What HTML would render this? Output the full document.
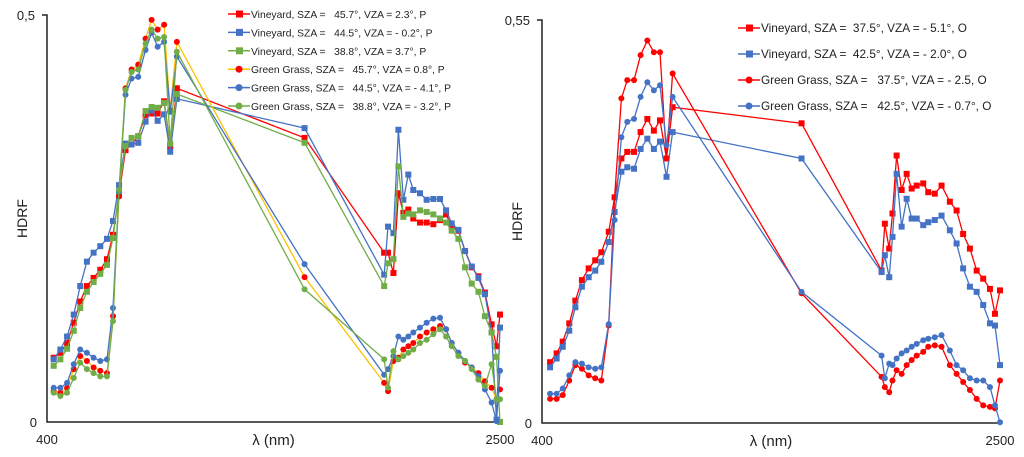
<!DOCTYPE html>
<html><head><meta charset="utf-8"><style>
body{margin:0;background:#fff;}
svg{display:block;font-family:"Liberation Sans",Arial,sans-serif;}
</style></head><body>
<svg id="chart" width="1024" height="457" viewBox="0 0 1024 457"></svg>
<script>
// ---------- LEFT CHART DATA ----------
const leftWavelengths = [431,462,493,524,554,585,616,647,678,706,734,764,792,823,857,885,913,943,971,1002,1594,1963,1981,2006,2029,2052,2075,2098,2129,2160,2191,2222,2250,2276,2307,2338,2369,2400,2430,2461,2484,2500];
const leftNames = ["Vineyard, SZA =   45.7°, VZA = 2.3°, P","Vineyard, SZA =   44.5°, VZA = - 0.2°, P","Vineyard, SZA =   38.8°, VZA = 3.7°, P","Green Grass, SZA =   45.7°, VZA = 0.8°, P","Green Grass, SZA =   44.5°, VZA = - 4.1°, P","Green Grass, SZA =   38.8°, VZA = - 3.2°, P"];
const leftVineyard1 = [.079,.085,.097,.122,.148,.167,.177,.187,.200,.230,.279,.334,.341,.351,.377,.379,.379,.394,.339,.410,.349,.208,.208,.183,.281,.257,.261,.250,.245,.245,.243,.248,.255,.240,.235,.210,.190,.179,.159,.120,.093,.132];
const leftVineyard2 = [.077,.089,.105,.132,.167,.197,.208,.216,.225,.247,.291,.342,.341,.343,.369,.383,.370,.378,.332,.397,.361,.181,.240,.232,.359,.273,.304,.285,.281,.273,.274,.274,.260,.244,.236,.210,.191,.177,.157,.110,.003,.116];
const leftVineyard3 = [.069,.077,.090,.112,.140,.160,.172,.182,.193,.226,.283,.339,.349,.351,.382,.387,.386,.392,.342,.403,.343,.167,.195,.200,.314,.252,.256,.255,.260,.258,.255,.250,.245,.235,.225,.190,.170,.160,.130,.110,.080,.000];
const leftGrass1 = [.038,.036,.042,.065,.081,.075,.067,.063,.060,.130,.277,.410,.433,.439,.471,.494,.482,.488,.383,.467,.178,.048,.038,.075,.079,.089,.093,.097,.105,.110,.114,.118,.114,.097,.085,.073,.067,.060,.050,.042,.028,.040];
const leftGrass2 = [.042,.042,.048,.071,.089,.085,.079,.075,.077,.140,.283,.402,.422,.424,.457,.478,.461,.467,.381,.449,.194,.058,.065,.081,.105,.101,.105,.110,.116,.122,.127,.128,.114,.097,.085,.075,.067,.056,.040,.024,.001,.063];
const leftGrass3 = [.036,.032,.036,.054,.073,.065,.060,.056,.056,.124,.285,.408,.430,.433,.465,.482,.471,.473,.343,.455,.163,.077,.042,.087,.077,.081,.085,.089,.097,.101,.108,.114,.105,.093,.081,.075,.065,.052,.044,.071,.028,.028];
const leftTicks = ["0","0,5"];
// ---------- RIGHT CHART DATA ----------
const rightWavelengths = [437,467,495,525,553,583,614,644,672,706,733,764,791,822,852,883,913,941,971,999,1590,1957,1972,1992,2007,2026,2049,2072,2095,2118,2148,2171,2201,2232,2270,2301,2331,2362,2393,2423,2454,2477,2500];
const rightNames = ["Vineyard, SZA =  37.5°, VZA = - 5.1°, O","Vineyard, SZA =  42.5°, VZA = - 2.0°, O","Green Grass, SZA =   37.5°, VZA = - 2.5, O","Green Grass, SZA =   42.5°, VZA = - 0.7°, O"];
const rightVineyard1 = [.083,.095,.111,.136,.167,.195,.211,.222,.233,.261,.308,.361,.370,.370,.397,.415,.399,.413,.361,.431,.409,.208,.272,.238,.286,.365,.318,.340,.320,.324,.327,.315,.313,.324,.302,.290,.258,.238,.208,.197,.183,.149,.181];
const rightVineyard2 = [.076,.088,.104,.126,.158,.186,.199,.208,.220,.247,.288,.343,.349,.347,.374,.388,.374,.384,.336,.397,.361,.206,.229,.199,.254,.340,.268,.306,.279,.279,.270,.274,.277,.283,.263,.245,.211,.186,.179,.161,.136,.133,.079];
const rightGrass1 = [.033,.033,.038,.058,.079,.074,.065,.061,.058,.133,.308,.443,.468,.468,.502,.522,.506,.506,.361,.477,.177,.063,.049,.042,.058,.072,.067,.079,.086,.092,.097,.104,.106,.104,.079,.067,.056,.045,.033,.024,.022,.020,.058];
const rightGrass2 = [.040,.040,.047,.065,.083,.081,.076,.074,.076,.135,.277,.390,.411,.415,.445,.465,.454,.461,.379,.445,.179,.092,.061,.081,.079,.088,.095,.099,.104,.108,.113,.115,.117,.120,.099,.079,.072,.061,.058,.058,.049,.024,.001];
const rightTicks = ["0","0,55"];

const NS="http://www.w3.org/2000/svg";
const svg=document.getElementById('chart');
function mk(tag,attrs,parent){const e=document.createElementNS(NS,tag);for(const k in attrs)e.setAttribute(k,attrs[k]);(parent||svg).appendChild(e);return e;}
function txt(x,y,s,size,anchor,parent){const t=mk('text',{x:x,y:y,'font-size':size,fill:'#222','text-anchor':anchor||'start'},parent);t.textContent=s;return t;}

function drawChart(cfg){
  const g=mk('g',{});
  
  
  const xs=w=>cfg.x0+(w-400)/(2100)*(cfg.x1-cfg.x0);
  const ys=v=>cfg.y0-v/cfg.ymax*(cfg.y0-cfg.y1);
  const ax=mk('path',{d:`M${cfg.x0-5},${cfg.y1} H${cfg.x0} V${cfg.y0} H${cfg.x1}`,stroke:'#222','stroke-width':1.5,fill:'none'},g);
  
  
  const t0=txt(cfg.x0-10,cfg.y0+5,cfg.ticks[0],13,'end',g);
  
  
  const t1=txt(cfg.x0-12,cfg.y1+5,cfg.ticks[1],13,'end',g);
  
  
  const xl=txt(cfg.x0,cfg.y0+22,'400',13,'middle',g);
  
  
  const xr=txt(cfg.x1,cfg.y0+22,'2500',13,'middle',g);
  
  
  const xt=txt((cfg.x0+cfg.x1)/2,cfg.y0+23,'λ (nm)',15,'middle',g);
  
  
  const yt=txt(0,0,'HDRF',14,'middle',g);
  yt.setAttribute('transform',`translate(${cfg.x0-20},${(cfg.y0+cfg.y1)/2}) rotate(-90)`);
  
  
  cfg.series.forEach((s,i)=>{
    const sg=mk('g',{},g);
    
    
    const d=s.vals.map((v,j)=>(j?'L':'M')+xs(cfg.wl[j]).toFixed(1)+','+ys(v).toFixed(1)).join(' ');
    mk('path',{d:d,stroke:s.line,'stroke-width':1.3,fill:'none'},sg);
    s.vals.forEach((v,j)=>{
      const cx=xs(cfg.wl[j]),cy=ys(v);
      let m;
      if(s.shape==='sq') m=mk('rect',{x:cx-3,y:cy-3,width:6,height:6,fill:s.mark},sg);
      else m=mk('circle',{cx:cx,cy:cy,r:3,fill:s.mark},sg);
      
      
    });
    const ly=cfg.legY+i*cfg.legDy;
    const lg=mk('g',{},g);
    
    
    mk('line',{x1:cfg.legX,y1:ly,x2:cfg.legX+22,y2:ly,stroke:s.line,'stroke-width':1.5},lg);
    if(s.shape==='sq') mk('rect',{x:cfg.legX+8,y:ly-3.5,width:7,height:7,fill:s.mark},lg);
    else mk('circle',{cx:cfg.legX+11,cy:ly,r:3.5,fill:s.mark},lg);
    const lt=txt(cfg.legX+23,ly+4,cfg.names[i],cfg.legFont,'start',lg);
    lt.setAttribute('xml:space','preserve');
    lt.style.whiteSpace='pre';
  });
}
const RED='#ff0000',BLUE='#4472c4',GREEN='#70ad47',ORANGE='#ffc000';
drawChart({name:'left-chart',x0:47,x1:500,y0:422,y1:15,ymax:0.5,ticks:leftTicks,wl:leftWavelengths,names:leftNames,legX:228,legY:14,legDy:18.4,legFont:10.3,
  series:[
    {id:'vineyard-45-7',vals:leftVineyard1,line:RED,mark:RED,shape:'sq'},
    {id:'vineyard-44-5',vals:leftVineyard2,line:BLUE,mark:BLUE,shape:'sq'},
    {id:'vineyard-38-8',vals:leftVineyard3,line:GREEN,mark:GREEN,shape:'sq'},
    {id:'grass-45-7',vals:leftGrass1,line:ORANGE,mark:RED,shape:'ci'},
    {id:'grass-44-5',vals:leftGrass2,line:BLUE,mark:BLUE,shape:'ci'},
    {id:'grass-38-8',vals:leftGrass3,line:GREEN,mark:GREEN,shape:'ci'}]});
drawChart({name:'right-chart',x0:542,x1:1000,y0:423,y1:20,ymax:0.55,ticks:rightTicks,wl:rightWavelengths,names:rightNames,legX:738,legY:28,legDy:26,legFont:11.8,
  series:[
    {id:'vineyard-37-5',vals:rightVineyard1,line:RED,mark:RED,shape:'sq'},
    {id:'vineyard-42-5',vals:rightVineyard2,line:BLUE,mark:BLUE,shape:'sq'},
    {id:'grass-37-5',vals:rightGrass1,line:RED,mark:RED,shape:'ci'},
    {id:'grass-42-5',vals:rightGrass2,line:BLUE,mark:BLUE,shape:'ci'}]});
</script>
</body></html>
